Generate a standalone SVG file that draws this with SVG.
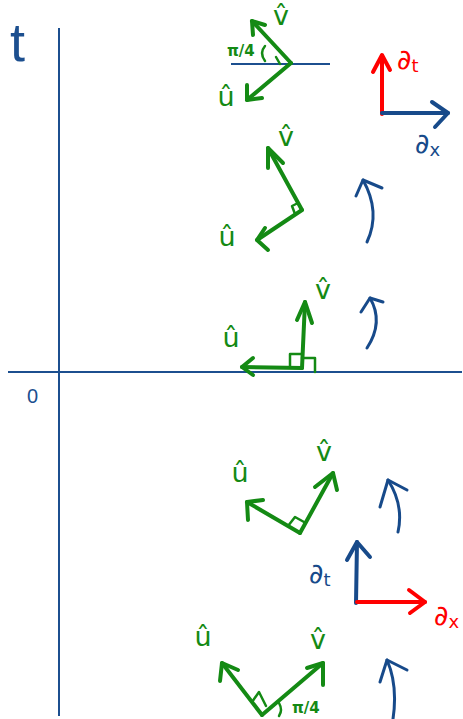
<svg xmlns="http://www.w3.org/2000/svg" width="463" height="719" viewBox="0 0 463 719">
<style>
.ax{stroke:#1c4f8f;stroke-width:2;fill:none}
.g{stroke:#148a14;stroke-width:4;fill:none;stroke-linecap:round;stroke-linejoin:round}
.gt{stroke:#148a14;stroke-width:2.5;fill:none;stroke-linecap:round;stroke-linejoin:round}
.b{stroke:#174a8a;stroke-width:4;fill:none;stroke-linecap:round;stroke-linejoin:round}
.bc{stroke:#174a8a;stroke-width:3;fill:none;stroke-linecap:round;stroke-linejoin:round}
.r{stroke:#ff0000;stroke-width:4;fill:none;stroke-linecap:round;stroke-linejoin:round}
.lab{font-family:"DejaVu Sans",sans-serif;font-size:27px;fill:#148a14;text-anchor:middle}
.pi{font-family:"DejaVu Sans",sans-serif;font-size:15px;fill:#148a14;font-weight:bold}
.d{font-family:"DejaVu Sans",sans-serif;font-size:28px}
</style>
<rect width="463" height="719" fill="#ffffff"/>
<g id="axes">
<line class="ax" x1="59" y1="28" x2="59" y2="716"/>
<line class="ax" x1="8" y1="372" x2="462" y2="372"/>
<text x="10" y="61" font-family="Liberation Sans, sans-serif" font-size="54" fill="#1c4f8f">t</text>
<text x="27" y="403" font-family="Liberation Sans, sans-serif" font-size="20" fill="#1c4f8f">0</text>
</g>
<g id="frame1">
<line class="ax" x1="231" y1="64" x2="330" y2="64"/>
<line class="g" x1="291" y1="63" x2="252" y2="21"/>
<polyline class="g" points="253,35 252,21 265,25"/>
<line class="g" x1="291" y1="63" x2="247" y2="100"/>
<polyline class="g" points="247,85 247,100 262,98"/>
<polyline class="gt" points="276,57 280,64"/>
<path class="gt" d="M265,46 Q259,53 265,61"/>
<text class="pi" x="227" y="56">π/4</text>
<text class="lab" x="281" y="25">v̂</text>
<text class="lab" x="226" y="106">û</text>
</g>
<g id="basis-top">
<line class="r" x1="382" y1="114" x2="382" y2="56"/>
<polyline class="r" points="373,72 382,55 390,70"/>
<line class="b" x1="382" y1="113" x2="448" y2="113"/>
<polyline class="b" points="432,102 448,113 435,127"/>
<text class="d" x="397" y="69" fill="#ff0000">∂<tspan font-size="18" dy="3">t</tspan></text>
<text class="d" x="415" y="153" fill="#174a8a">∂<tspan font-size="18" dy="3">x</tspan></text>
</g>
<g id="frame2">
<line class="g" x1="302" y1="210" x2="268" y2="148"/>
<polyline class="g" points="268,168 268,148 283,163"/>
<line class="g" x1="302" y1="210" x2="257" y2="240"/>
<polyline class="g" points="265,228 257,240 268,250"/>
<polyline class="gt" points="298,203 292,206 295,214"/>
<text class="lab" x="286" y="146">v̂</text>
<text class="lab" x="227" y="246">û</text>
<path class="bc" d="M367,242 Q381,212 363,180"/>
<polyline class="bc" points="356,196 363,180 382,188"/>
</g>
<g id="frame3">
<line class="g" x1="302" y1="368" x2="305" y2="302"/>
<polyline class="g" points="297,320 305,302 312,323"/>
<line class="g" x1="302" y1="368" x2="242" y2="367"/>
<polyline class="g" points="253,358 242,367 253,375"/>
<polyline class="gt" points="290,367 290,354 302,354"/>
<polyline class="gt" points="302,358 315,358 315,372"/>
<text class="lab" x="323" y="299">v̂</text>
<text class="lab" x="231" y="347">û</text>
<path class="bc" d="M367,348 Q384,322 370,298"/>
<polyline class="bc" points="361,312 370,298 383,302"/>
</g>
<g id="frame4">
<line class="g" x1="300" y1="533" x2="333" y2="473"/>
<polyline class="g" points="315,487 333,473 337,490"/>
<line class="g" x1="300" y1="533" x2="247" y2="502"/>
<polyline class="g" points="263,500 247,502 248,520"/>
<polyline class="gt" points="288,526 295,517 304,522"/>
<text class="lab" x="324" y="461">v̂</text>
<text class="lab" x="240" y="482">û</text>
<path class="bc" d="M398,532 Q404,505 388,480"/>
<polyline class="bc" points="380,507 388,480 407,490"/>
</g>
<g id="basis-bottom">
<line class="b" x1="356" y1="603" x2="357" y2="542"/>
<polyline class="b" points="347,560 357,542 370,557"/>
<line class="r" x1="357" y1="602" x2="425" y2="602"/>
<polyline class="r" points="409,590 425,602 410,613"/>
<text class="d" x="309" y="583" fill="#174a8a">∂<tspan font-size="18" dy="3">t</tspan></text>
<text class="d" x="434" y="625" fill="#ff0000">∂<tspan font-size="18" dy="3">x</tspan></text>
</g>
<g id="frame5">
<line class="g" x1="262" y1="715" x2="323" y2="663"/>
<polyline class="g" points="307,668 323,663 323,685"/>
<line class="g" x1="262" y1="715" x2="222" y2="663"/>
<polyline class="g" points="220,681 222,663 238,670"/>
<polyline class="gt" points="252,702 259,692 266,706"/>
<path class="gt" d="M279,703 Q283,710 279,716"/>
<text class="pi" x="292" y="713">π/4</text>
<text class="lab" x="318" y="649">v̂</text>
<text class="lab" x="203" y="646">û</text>
<path class="bc" d="M393,719 Q398,685 387,660"/>
<polyline class="bc" points="380,682 387,660 407,670"/>
</g>
</svg>
